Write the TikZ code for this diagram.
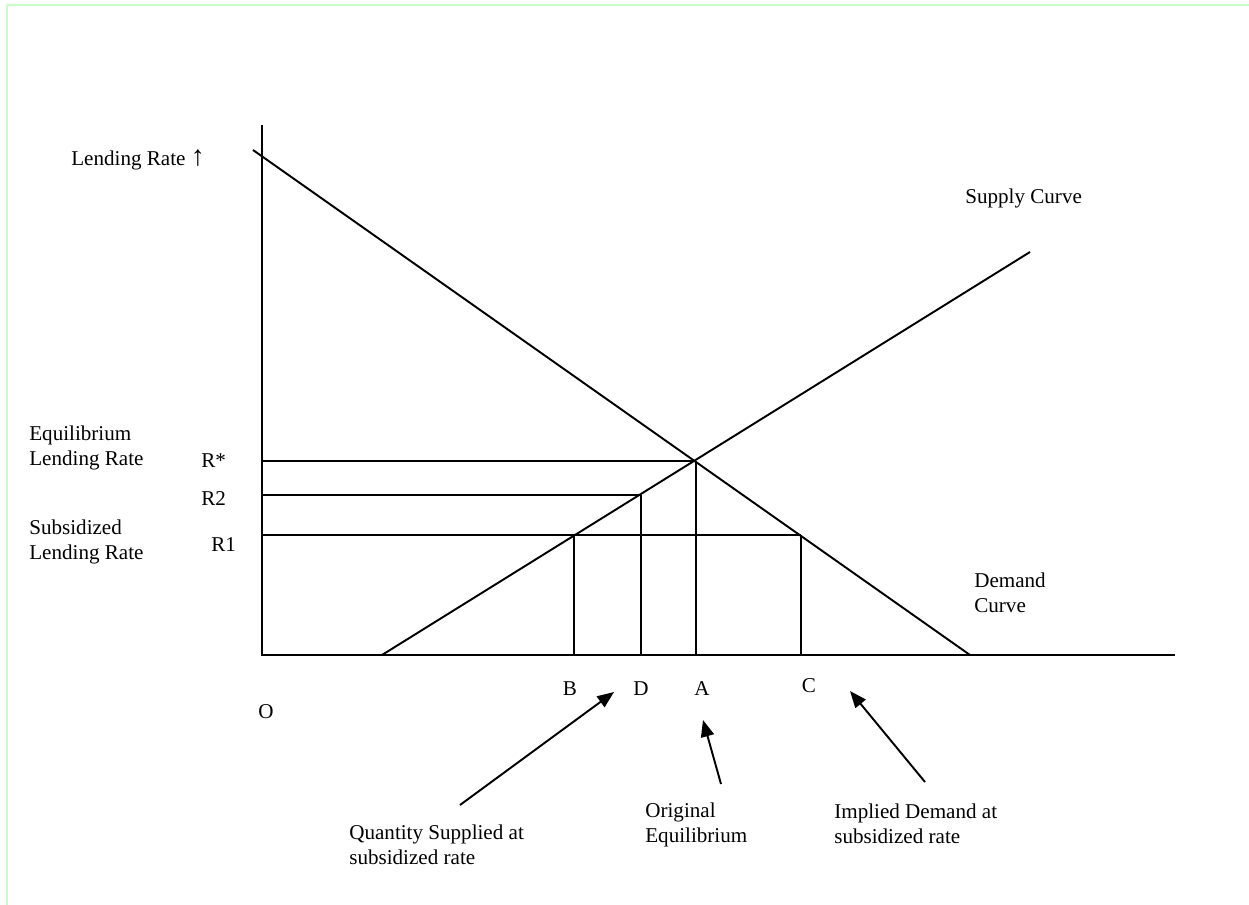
\documentclass[tikz,border=0pt]{standalone}
\usepackage{fontspec}
\setmainfont{Liberation Serif}
\usetikzlibrary{arrows.meta}
\definecolor{pageedge}{RGB}{200,255,200}

\begin{document}
\begin{tikzpicture}[x=0.02cm,y=-0.02cm,
		txt/.style={inner sep=0pt,anchor=west,align=left,font=\fontsize{12}{14.2}\selectfont},
		letter/.style={inner sep=0pt,font=\fontsize{12}{14.2}\selectfont},
		ln/.style={line width=1.1pt},
		pointer/.style={line width=1.1pt,-{Triangle[length=9.5pt,width=7.5pt]}}]
			\useasboundingbox (0,0) rectangle (1249,905);
			\draw[pageedge,line width=1.6pt] (7,905) -- (7,5) -- (1249,5);
			% axes and curves
			\coordinate (O) at (262,655);
			\coordinate (ytop) at (262,125);
			\coordinate (xend) at (1175,655);
			\coordinate (d0) at (253,150);
			\coordinate (d1) at (970,655);
			\coordinate (s0) at (382,655);
			\coordinate (s1) at (1030,252);
			\coordinate (E) at (696,461);
			\coordinate (sB) at (574,535);
			\coordinate (sD) at (641,495);
			\coordinate (dC) at (801,535);
			\coordinate (yE) at (262,461);
			\coordinate (yR2) at (262,495);
			\coordinate (yR1) at (262,535);
			\coordinate (xB) at (574,655);
			\coordinate (xD) at (641,655);
			\coordinate (xA) at (696,655);
			\coordinate (xC) at (801,655);
			\draw[ln] (ytop) -- (O) -- (xend);
			\draw[ln] (d0) -- (d1);
			\draw[ln] (s0) -- (s1);
			\draw[ln] (yE) -- (E); \draw[ln] (yR2) -- (sD); \draw[ln] (yR1) -- (dC);
			\draw[ln] (sB) -- (xB); \draw[ln] (sD) -- (xD); \draw[ln] (E) -- (xA); \draw[ln] (dC) -- (xC);
			% labels
			\node[txt] (lrate) at (71,160) {Lending Rate {\fontsize{16}{16}\selectfont ↑}};
			\node[txt] (scurve) at (965,198) {Supply Curve};
			\node[txt] (dcurve) at (974,593) {Demand\\Curve};
			\node[txt] (eqrate) at (29,448) {Equilibrium\\Lending Rate};
			\node[txt] (subrate) at (29,542) {Subsidized\\Lending Rate};
			\node[txt] (rstar) at (201,461) {R*};
			\node[txt] (rtwo) at (201,499) {R2};
			\node[txt] (rone) at (211,545) {R1};
			\node[txt] (olab) at (258,712) {O};
			\node[letter] (blab) at (570,689) {B};
			\node[letter] (dlab) at (641,689) {D};
			\node[letter] (alab) at (702,689) {A};
			\node[letter] (clab) at (809,686) {C};
			\node[txt] (qsup) at (349,845) {Quantity Supplied at\\subsidized rate};
			\node[txt] (origeq) at (645,825) {Original\\Equilibrium};
			\node[txt] (impdem) at (834,824) {Implied Demand at\\subsidized rate};
			% pointers
			\coordinate (qtail) at (460,805); \coordinate (qtip) at (614,692);
			\coordinate (otail) at (721,784); \coordinate (otip) at (703,720);
			\coordinate (itail) at (925,782); \coordinate (itip) at (850,691);
			\draw[pointer] (qtail) -- (qtip);
			\draw[pointer] (otail) -- (otip);
			\draw[pointer] (itail) -- (itip);
		\end{tikzpicture}
\end{document}
